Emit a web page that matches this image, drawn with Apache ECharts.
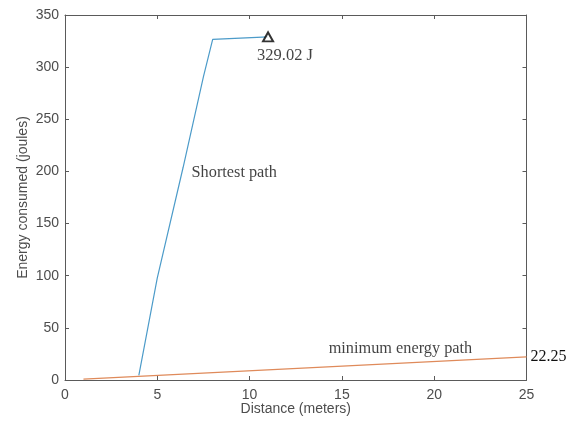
<!DOCTYPE html>
<html>
<head>
<meta charset="utf-8">
<script src="https://cdn.jsdelivr.net/npm/echarts@6/dist/echarts.min.js"></script>
<style>html,body{margin:0;padding:0;background:#fff}#c{width:574px;height:427px}</style>
</head>
<body>
<div id="c"></div>
<script>
// Data
var shortestPath = [[4, 4.5], [5, 98], [6.4, 204], [7.5, 291], [8, 326.7], [11, 329.02]];
var minEnergyPath = [[1, 0.89], [25, 22.25]];
var peakPoint = [[11, 329.02]];
var peakLabel = '329.02 J';
var endLabel = '22.25';
var shortestLabel = ['Shortest path', 9.17, 199];
var minLabel = ['minimum energy path', 18.17, 29.7];
var xTicks = [0, 5, 10, 15, 20, 25];
var yTicks = [0, 50, 100, 150, 200, 250, 300, 350];

var axisGray = '#4d4d4d';
var lineStyleAx = {color: '#5a5a5a', width: 1};
var serif = '"Liberation Serif", "Times New Roman", serif';
var sans = '"Liberation Sans", Arial, sans-serif';

function axisBase(extra) {
  var o = {
    type: 'value',
    axisLine: {show: true, onZero: false, lineStyle: lineStyleAx},
    axisTick: {show: true, inside: true, length: 4, lineStyle: lineStyleAx},
    splitLine: {show: false}
  };
  for (var k in extra) o[k] = extra[k];
  return o;
}

var chart = echarts.init(document.getElementById('c'));
chart.setOption({
  animation: false,
  backgroundColor: '#fff',
  grid: {left: 65, right: 47.5, top: 15, bottom: 47, containLabel: false},
  xAxis: [axisBase({
    min: xTicks[0], max: xTicks[xTicks.length - 1], interval: 5, position: 'bottom',
    name: 'Distance (meters)', nameLocation: 'middle', nameGap: 22, nameMoveOverlap: false,
    nameTextStyle: {color: axisGray, fontFamily: sans, fontSize: 14},
    axisLabel: {color: axisGray, fontFamily: sans, fontSize: 14, margin: 8}
  }), axisBase({
    min: xTicks[0], max: xTicks[xTicks.length - 1], interval: 5, position: 'top',
    axisLabel: {show: false}
  })],
  yAxis: [axisBase({
    min: yTicks[0], max: yTicks[yTicks.length - 1], interval: 50, position: 'left',
    name: 'Energy consumed (joules)', nameLocation: 'middle', nameGap: 35, nameMoveOverlap: false,
    nameTextStyle: {color: axisGray, fontFamily: sans, fontSize: 14},
    axisLabel: {color: axisGray, fontFamily: sans, fontSize: 14, margin: 6}
  }), axisBase({
    min: yTicks[0], max: yTicks[yTicks.length - 1], interval: 50, position: 'right',
    axisLabel: {show: false}
  })],
  series: [{
    type: 'line', data: shortestPath, showSymbol: false, symbol: 'none',
    lineStyle: {color: '#4c9bc9', width: 1.2}, z: 3
  }, {
    type: 'line', showSymbol: false, symbol: 'none',
    data: minEnergyPath,
    lineStyle: {color: '#df8a5a', width: 1.2}, z: 3,
    endLabel: {show: true, distance: 4, formatter: endLabel,
      color: '#111', fontFamily: serif, fontSize: 16}
  }, {
    type: 'scatter', data: peakPoint, symbol: 'triangle', symbolSize: [10, 9],
    itemStyle: {color: '#fff', borderColor: '#000', borderWidth: 2}, z: 5,
    label: {show: true, position: 'bottom', distance: 5, offset: [17, 0],
      formatter: peakLabel, color: '#111', fontFamily: serif, fontSize: 16.5}
  }, {
    type: 'scatter', symbolSize: 0, silent: true,
    data: [shortestLabel, minLabel].map(function (d) {
      return {value: [d[1], d[2]], name: d[0]};
    }),
    label: {show: true, position: 'inside', formatter: '{b}',
      color: '#111', fontFamily: serif, fontSize: 16.3}
  }]
});
</script>
</body>
</html>
